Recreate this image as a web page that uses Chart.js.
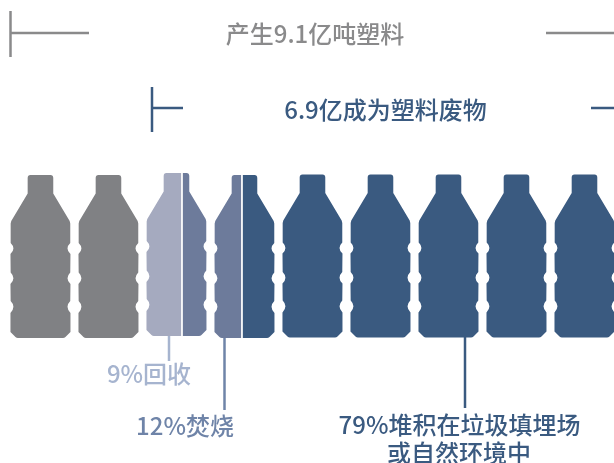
<!DOCTYPE html>
<html><head><meta charset="utf-8">
<style>html,body{margin:0;padding:0;background:#fff}canvas{display:block}</style>
<script src="https://cdn.jsdelivr.net/npm/chart.js@4"></script>
</head><body><canvas id="c" width="614" height="463"></canvas>
<script>
// Values are in "bottle" units: one bottle is about one hundred million tonnes.
const categories = ['塑料'];
const segmentNames = ['非废物', '9%回收', '12%焚烧', '79%堆积在垃圾填埋场或自然环境中'];
const segmentValues = [2.0, 0.581, 0.882, 5.537];
const segmentColors = ['#808184', '#a5aabf', '#6d7b9b', '#3a5a80'];
const bottleCount = 9;
const bottleLift = [0, 0, -2, 0, -0.5, -0.5, -0.5, -0.5, -0.5];

const GREY = '#8a8a8b', NAVY = '#3a5a80', LIGHT = '#a6b4cf', MID = '#6f84a8';
const xMin = -0.095, xMax = 8.934;
const topY = 175;

function bottlePath(ctx, cx, top) {
  const side = (s) => ({
    L: (dx, dy) => ctx.lineTo(cx + s * dx, top + dy),
    Q: (ax, ay, dx, dy) => ctx.quadraticCurveTo(cx + s * ax, top + ay, cx + s * dx, top + dy)
  });
  const notches = [[68, 73.5, 79], [97.5, 103.3, 109], [126, 131.7, 138]];
  ctx.moveTo(cx - 10, top);
  const r = side(1);
  r.L(10, 0); r.Q(12.8, 0, 12.8, 3); r.L(12.8, 18.5); r.L(29.2, 46); r.L(29.8, 48.5);
  for (const [a, m, b] of notches) { r.L(29.8, a); r.Q(24.2, m, 30, b); }
  r.L(30, 157); r.L(25, 162); r.Q(24, 163, 22.5, 163);
  const l = side(-1);
  l.L(22.5, 163); l.Q(24, 163, 25, 162); l.L(30, 157);
  for (const [a, m, b] of notches.slice().reverse()) { l.L(30, b); l.Q(24.2, m, 29.8, a); }
  l.L(29.8, 48.5); l.L(29.2, 46); l.L(12.8, 18.5); l.L(12.8, 3); l.Q(12.8, 0, 10, 0);
  ctx.closePath();
}

const bottleClip = {
  id: 'bottleClip',
  beforeDatasetsDraw(chart) {
    const {ctx, scales: {x}} = chart;
    ctx.save();
    ctx.beginPath();
    for (let i = 0; i < bottleCount; i++) {
      bottlePath(ctx, x.getPixelForValue(i + 0.5), topY + bottleLift[i]);
    }
    ctx.clip();
  },
  afterDatasetsDraw(chart) { chart.ctx.restore(); }
};

const annotations = {
  id: 'annotations',
  afterDraw(chart) {
    const {ctx} = chart;
    ctx.save();
    const line = (c, w, pts) => {
      ctx.strokeStyle = c; ctx.lineWidth = w; ctx.beginPath();
      ctx.moveTo(pts[0], pts[1]); ctx.lineTo(pts[2], pts[3]); ctx.stroke();
    };
    line(GREY, 2.5, [10.5, 11, 10.5, 57]);
    line(GREY, 2.5, [10.5, 33, 89, 33]);
    line(GREY, 2.5, [546, 33, 614, 33]);
    line(NAVY, 2.5, [152, 87, 152, 132]);
    line(NAVY, 2.5, [152, 108, 183, 108]);
    line(NAVY, 2.5, [591, 108, 614, 108]);
    line(LIGHT, 2.5, [169, 336, 169, 361]);
    line(MID, 2.5, [224.5, 338, 224.5, 410]);
    line(NAVY, 2.5, [465, 337, 465, 408]);
    ctx.textAlign = 'center'; ctx.textBaseline = 'middle';
    ctx.font = '500 24px "Noto Sans CJK SC",sans-serif';
    const t = (s, c, x, y) => { ctx.fillStyle = c; ctx.fillText(s, x, y); };
    t('产生9.1亿吨塑料', GREY, 315, 34);
    t('6.9亿成为塑料废物', NAVY, 385.5, 110);
    t('9%回收', LIGHT, 149, 374);
    t('12%焚烧', MID, 185, 426);
    t('79%堆积在垃圾填埋场', NAVY, 459.5, 425);
    t('或自然环境中', NAVY, 459, 453);
    ctx.restore();
  }
};

new Chart(document.getElementById('c'), {
  type: 'bar',
  data: {
    labels: categories,
    datasets: segmentNames.map((name, i) => ({
      label: name,
      data: [segmentValues[i]],
      backgroundColor: segmentColors[i],
      borderColor: '#ffffff',
      borderWidth: {left: 1.2, right: 1.2, top: 0, bottom: 0},
      borderSkipped: false,
      barThickness: 172
    }))
  },
  options: {
    indexAxis: 'y',
    responsive: false,
    animation: false,
    layout: {padding: {top: 48, left: 0, right: 0, bottom: 0}},
    plugins: {legend: {display: false}, tooltip: {enabled: false}},
    scales: {
      x: {type: 'linear', stacked: true, display: false, min: xMin, max: xMax},
      y: {stacked: true, display: false}
    }
  },
  plugins: [bottleClip, annotations]
});
</script></body></html>
